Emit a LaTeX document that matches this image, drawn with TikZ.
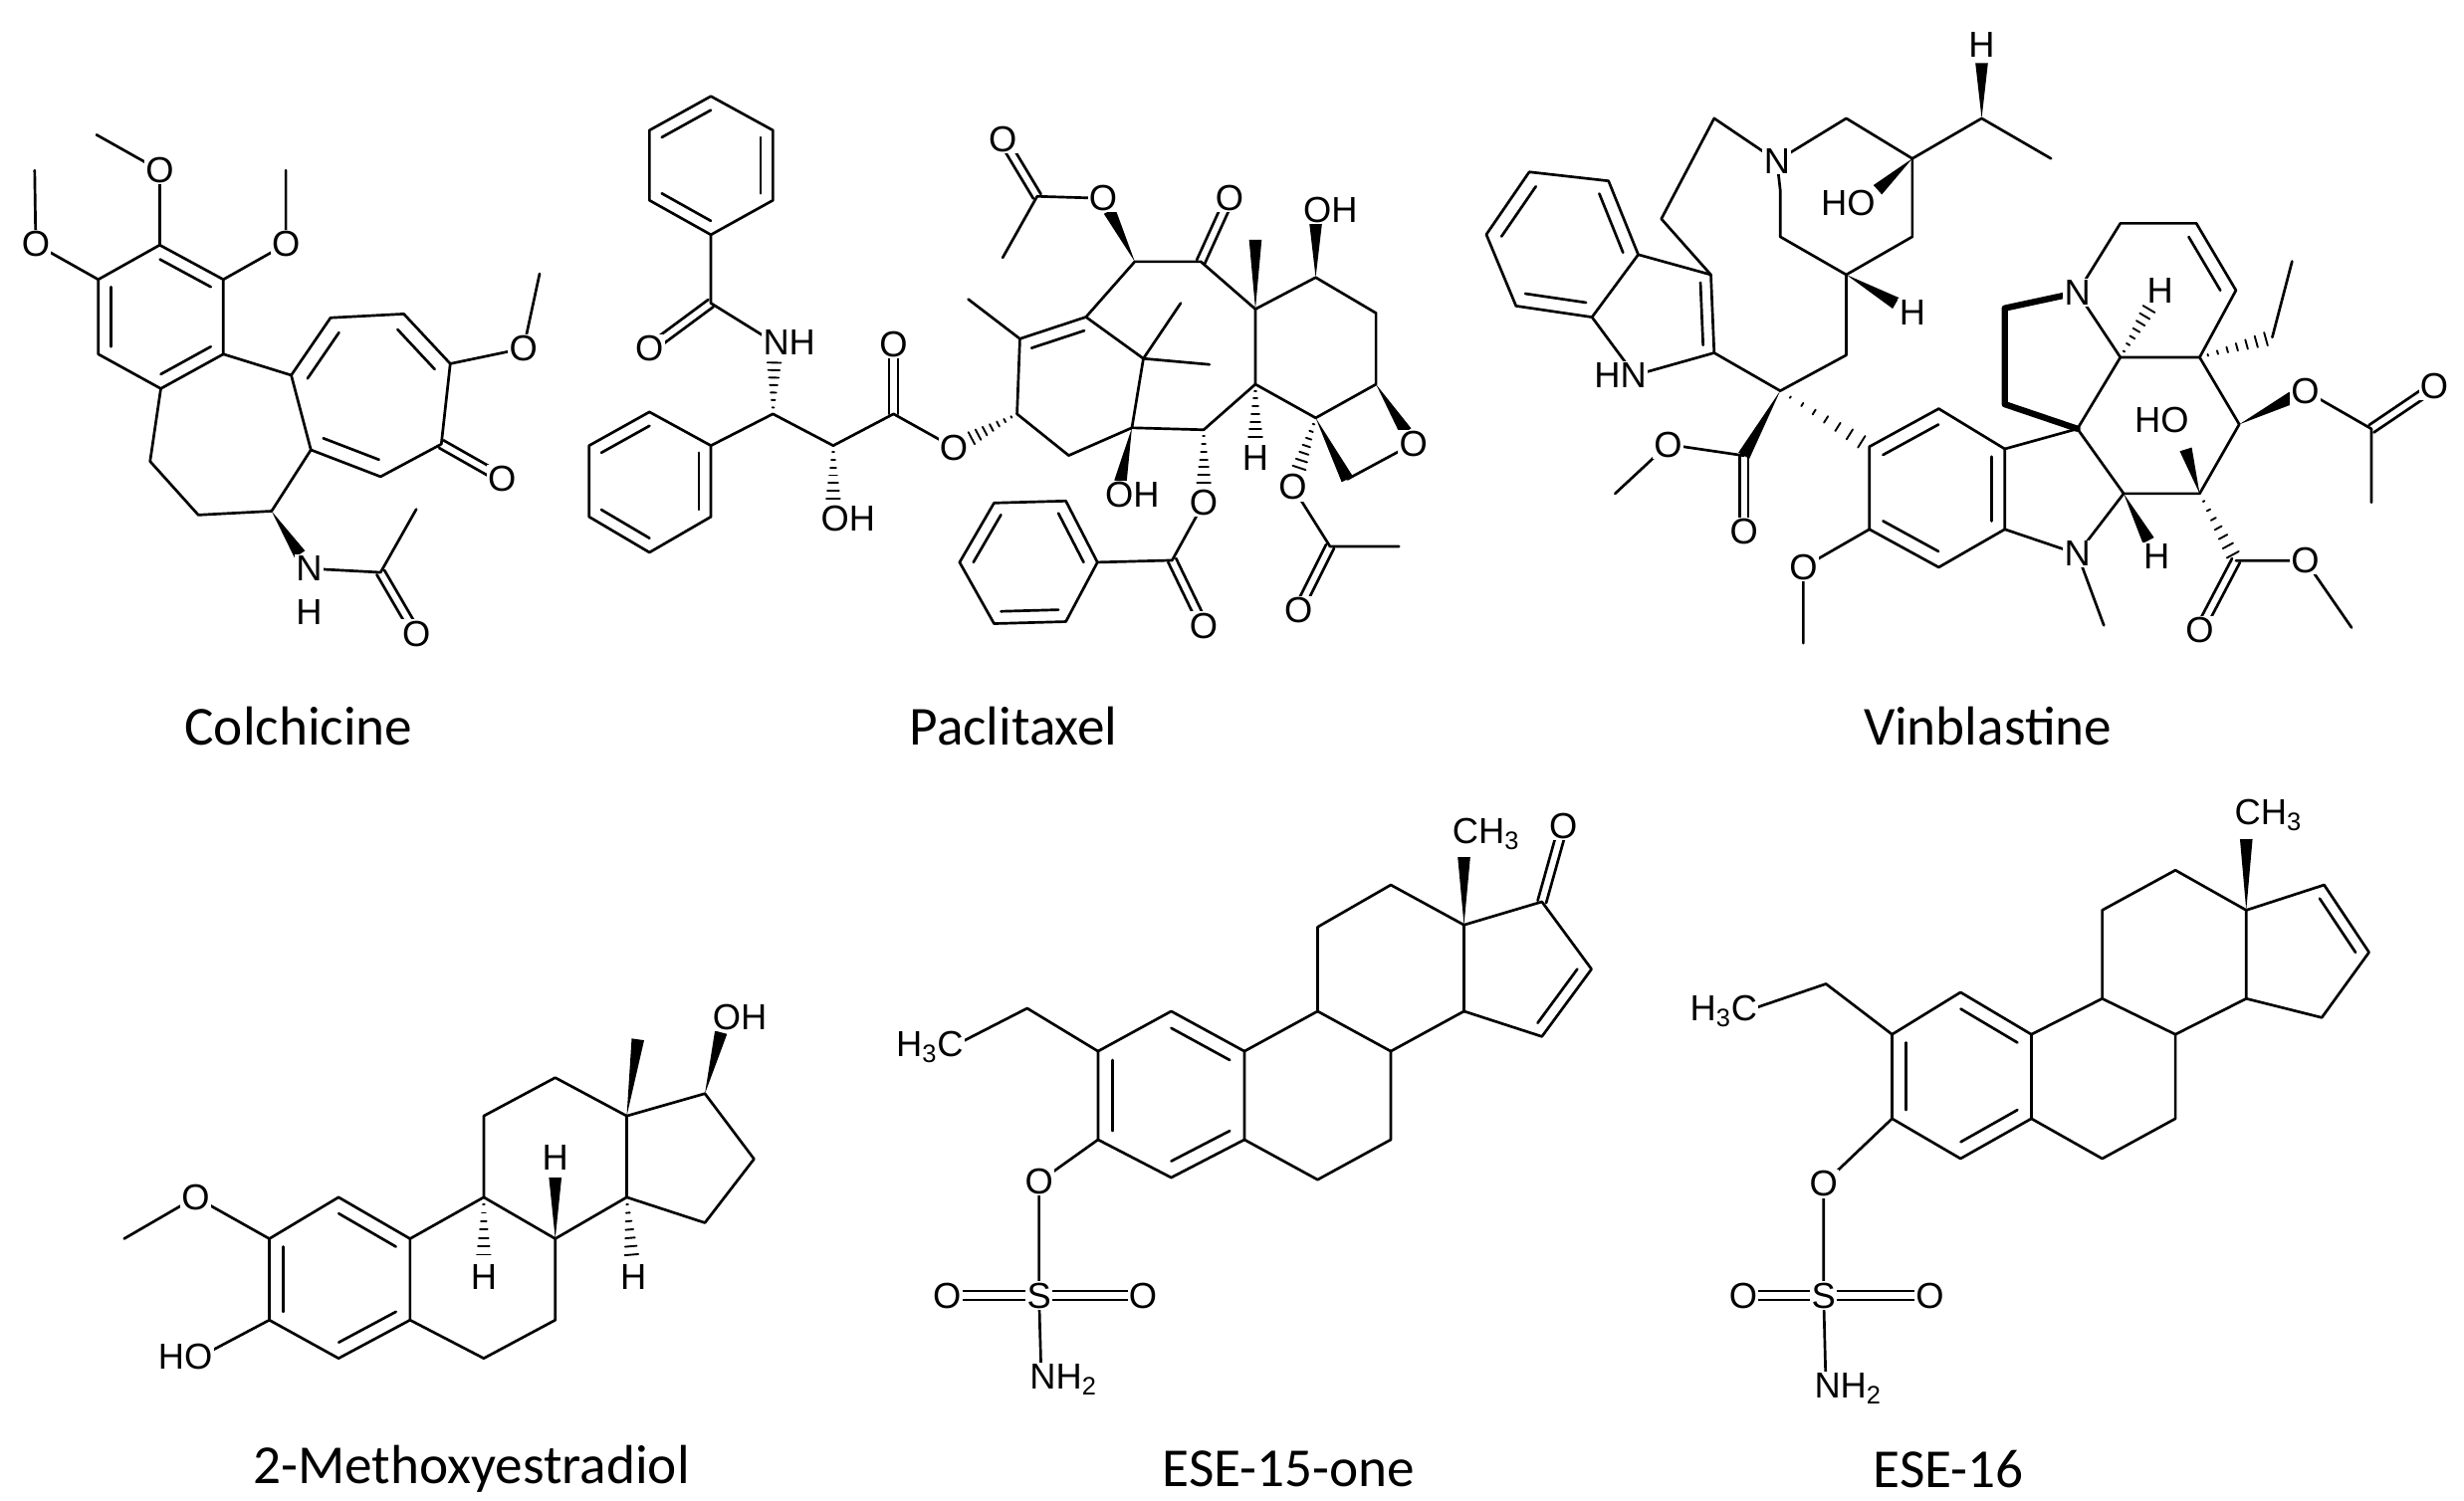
\documentclass[tikz,border=0pt]{standalone}
\usepackage{fontspec}
\setmainfont{Liberation Sans}
\newfontfamily\capfont{Carlito}
\usetikzlibrary{calc}
\newcommand\bIB[3]{\draw ($(#1)!0.2!(#3)$) -- ($(#2)!0.2!(#3)$);}
\newcommand\bDB[2]{\draw ($(#1)!2.8pt!90:(#2)$) -- ($(#2)!2.8pt!-90:(#1)$); \draw ($(#1)!2.8pt!-90:(#2)$) -- ($(#2)!2.8pt!90:(#1)$);}
\newcommand\bWG[3][0.8]{\path ($(#2)!#1!(#3)$) coordinate (wgtmp); \fill (#2) -- ($(wgtmp)!4pt!90:(#2)$) -- ($(wgtmp)!4pt!-90:(#2)$) -- cycle;}
\newcommand\bHS[3][0.8]{\path ($(#2)!#1!(#3)$) coordinate (hstmp); \foreach \t in {0.12,0.26,0.4,0.54,0.68,0.82,0.96}{\draw[line width=1.2pt] ($(#2)!\t!(hstmp)!{\t*4.5pt}!90:(#3)$) -- ($(#2)!\t!(hstmp)!{\t*4.5pt}!-90:(#3)$);}}
\begin{document}
\begin{tikzpicture}[x=1pt,y=-1pt,line width=1.7pt,line join=round,line cap=round,
 lab/.style={font=\fontsize{23}{26}\selectfont,fill=white,inner sep=0.8pt},
 captxt/.style={font=\capfont\fontsize{35}{40}\selectfont}]
\useasboundingbox (0,0) rectangle (1568,955);
% ================= Colchicine
\begin{scope}[shift={(0,63.35)},xscale=0.2274,yscale=0.2437]
\coordinate (ca1) at (447,380); \coordinate (ca2) at (625,470); \coordinate (ca3) at (625,665);
\coordinate (ca4) at (450,755); \coordinate (ca5) at (275,665); \coordinate (ca6) at (275,470); \coordinate (cx) at (450,567);
\coordinate (co1) at (100,378); \coordinate (cm1) at (97,185); \coordinate (co2) at (447,185); \coordinate (cm2) at (270,92);
\coordinate (co3) at (800,378); \coordinate (cm3) at (800,185);
\coordinate (cb1) at (420,945); \coordinate (cb2) at (555,1085); \coordinate (cb3) at (760,1075);
\coordinate (cc1) at (870,915); \coordinate (cc2) at (815,720); \coordinate (cc3) at (925,570); \coordinate (cc4) at (1130,560);
\coordinate (cc5) at (1260,690); \coordinate (cc6) at (1235,900); \coordinate (cc7) at (1065,985); \coordinate (cy) at (1043,763);
\coordinate (co4) at (1405,990); \coordinate (co5) at (1465,650); \coordinate (cm5) at (1510,455);
\coordinate (cn) at (865,1225); \coordinate (ch) at (865,1340); \coordinate (cc8) at (1065,1235); \coordinate (cm8) at (1165,1070); \coordinate (co6) at (1165,1395);
\end{scope}
\draw (ca1)--(ca2)--(ca3)--(ca4)--(ca5)--(ca6)--cycle;
\bIB{ca1}{ca2}{cx}\bIB{ca3}{ca4}{cx}\bIB{ca5}{ca6}{cx}
\draw (ca6)--(co1)--(cm1); \draw (ca1)--(co2)--(cm2); \draw (ca2)--(co3)--(cm3);
\draw (ca4)--(cb1)--(cb2)--(cb3)--(cc1)--(cc2)--(ca3);
\draw (cc2)--(cc3)--(cc4)--(cc5)--(cc6)--(cc7)--(cc1);
\bIB{cc2}{cc3}{cy}\bIB{cc4}{cc5}{cy}\bIB{cc7}{cc1}{cy}
\bDB{cc6}{co4} \draw (cc5)--(co5)--(cm5);
\bWG[0.75]{cb3}{cn} \draw (cn)--(cc8)--(cm8); \bDB{cc8}{co6}
\foreach \p in {co1,co2,co3,co4,co5,co6} \node[lab] at (\p) {O};
\node[lab] at (cn) {N}; \node[lab] at (ch) {H};
\node[captxt] at (190,462) {Colchicine};
% ================= Paclitaxel
\begin{scope}[shift={(354.8,50.7)},xscale=0.3655,yscale=0.2518]
\coordinate (pp1) at (267,42); \coordinate (pp2) at (375,128); \coordinate (pp3) at (375,305);
\coordinate (pp4) at (267,392); \coordinate (pp5) at (160,305); \coordinate (pp6) at (160,128); \coordinate (ppx) at (267,217);
\coordinate (pc1) at (267,565); \coordinate (po1) at (160,680); \coordinate (pn) at (378,665); \coordinate (pc2) at (375,845);
\coordinate (pq1) at (267,925); \coordinate (pq2) at (267,1105); \coordinate (pq3) at (160,1195);
\coordinate (pq4) at (55,1105); \coordinate (pq5) at (55,925); \coordinate (pq6) at (160,840); \coordinate (pqx) at (161,1015);
\coordinate (pc3) at (480,925); \coordinate (poh1) at (480,1110); \coordinate (pc4) at (585,845); \coordinate (po2) at (585,670);
\coordinate (po3) at (690,930); \coordinate (pc5) at (800,845);
\coordinate (pc6) at (805,655); \coordinate (pc7) at (920,600); \coordinate (pme1) at (715,555); \coordinate (pc8) at (1005,460);
\coordinate (po4) at (950,300); \coordinate (pc9) at (835,295); \coordinate (po5) at (775,150); \coordinate (pme2) at (775,450);
\coordinate (pc10) at (1120,460); \coordinate (po6) at (1170,300); \coordinate (pc11) at (1215,580); \coordinate (pme3) at (1215,405);
\coordinate (pc12) at (1320,500); \coordinate (poh2) at (1320,330); \coordinate (pc13) at (1425,590); \coordinate (pc14) at (1425,770);
\coordinate (pc15) at (1320,855); \coordinate (pc16) at (1215,770);
\coordinate (po7) at (1490,920); \coordinate (pc17) at (1375,1010); \coordinate (po8) at (1280,1030); \coordinate (pc18) at (1345,1180);
\coordinate (pme4) at (1465,1180); \coordinate (po9) at (1290,1340); \coordinate (ph) at (1215,955);
\coordinate (pc19) at (1125,885); \coordinate (po10) at (1125,1070); \coordinate (pc20) at (1070,1215); \coordinate (po11) at (1125,1380);
\coordinate (pb1) at (940,1220); \coordinate (pb2) at (885,1370); \coordinate (pb3) at (760,1375);
\coordinate (pb4) at (700,1220); \coordinate (pb5) at (760,1070); \coordinate (pb6) at (885,1065); \coordinate (pbx) at (820,1220);
\coordinate (pc21) at (1000,880); \coordinate (poh3) at (975,1050); \coordinate (pc22) at (890,950); \coordinate (pc23) at (1020,705);
\coordinate (pme5) at (1085,565); \coordinate (pme6) at (1135,720); \coordinate (pax) at (906,772);
\end{scope}
\draw (pp1)--(pp2)--(pp3)--(pp4)--(pp5)--(pp6)--cycle;
\bIB{pp6}{pp1}{ppx}\bIB{pp2}{pp3}{ppx}\bIB{pp4}{pp5}{ppx}
\draw (pp4)--(pc1)--(pn); \bDB{pc1}{po1} \bHS[0.75]{pc2}{pn} \draw (pc2)--(pq1);
\draw (pq1)--(pq2)--(pq3)--(pq4)--(pq5)--(pq6)--cycle;
\bIB{pq6}{pq5}{pqx}\bIB{pq1}{pq2}{pqx}\bIB{pq3}{pq4}{pqx}
\draw (pc2)--(pc3)--(pc4)--(po3); \bHS[0.75]{pc3}{poh1} \bDB{pc4}{po2} \bHS[0.75]{pc5}{po3}
\draw (pc5)--(pc6)--(pc7); \bIB{pc6}{pc7}{pax} \draw (pc6)--(pme1);
\draw (pc7)--(pc8)--(pc10)--(pc11)--(pc12)--(pc13)--(pc14)--(pc15)--(pc16)--(pc11);
\bWG{pc8}{po4} \draw (po4)--(pc9)--(pme2); \bDB{pc9}{po5} \bDB{pc10}{po6} \bWG[1]{pc11}{pme3} \bWG{pc12}{poh2}
\bWG{pc14}{po7} \draw (po7)--(pc17); \bWG[1]{pc15}{pc17} \bHS[0.75]{pc15}{po8} \draw (po8)--(pc18)--(pme4); \bDB{pc18}{po9}
\bHS[0.75]{pc16}{ph} \draw (pc16)--(pc19)--(pc21)--(pc22)--(pc5); \bHS[0.75]{pc19}{po10} \draw (po10)--(pc20)--(pb1); \bDB{pc20}{po11}
\draw (pb1)--(pb2)--(pb3)--(pb4)--(pb5)--(pb6)--cycle;
\bIB{pb6}{pb1}{pbx}\bIB{pb2}{pb3}{pbx}\bIB{pb4}{pb5}{pbx}
\bWG{pc21}{poh3} \draw (pc7)--(pc23)--(pc21); \draw (pc23)--(pme5); \draw (pc23)--(pme6);
\foreach \p in {po1,po2,po3,po4,po5,po6,po7,po8,po9,po10,po11} \node[lab] at (\p) {O};
\node[lab,anchor=west] at ([xshift=-9pt]pn) {NH};
\foreach \p in {poh1,poh2,poh3} \node[lab,anchor=west] at ([xshift=-9.5pt]\p) {OH};
\node[lab] at (ph) {H};
\node[captxt] at (645,462) {Paclitaxel};
% ================= Vinblastine
\begin{scope}[shift={(912.2,0)},xscale=0.4203,yscale=0.2843]
\coordinate (vi1) at (145,385); \coordinate (vi2) at (265,405); \coordinate (vi3) at (310,570);
\coordinate (vi4) at (240,710); \coordinate (vi5) at (125,685); \coordinate (vi6) at (80,525); \coordinate (vix) at (195,547);
\coordinate (vv1) at (420,615); \coordinate (vv2) at (425,790); \coordinate (vhn) at (305,840); \coordinate (vpx) at (341,703);
\coordinate (ve1) at (345,490); \coordinate (ve2) at (425,265); \coordinate (vn1) at (520,360);
\coordinate (vr1) at (625,265); \coordinate (vr2) at (725,355); \coordinate (vr3) at (725,530);
\coordinate (vr4) at (625,615); \coordinate (vr5) at (525,530); \coordinate (vr6) at (525,425);
\coordinate (vho1) at (650,455); \coordinate (vr7) at (830,265); \coordinate (vh1) at (830,100); \coordinate (vme1) at (935,355);
\coordinate (vh2) at (725,700);
\coordinate (vr8) at (625,795); \coordinate (vq) at (525,875); \coordinate (vec) at (470,1020); \coordinate (veo) at (355,995);
\coordinate (veme) at (275,1105); \coordinate (veo2) at (470,1190);
\coordinate (var1) at (660,1000); \coordinate (var2) at (765,915); \coordinate (var3) at (865,1005);
\coordinate (var4) at (865,1185); \coordinate (var5) at (765,1270); \coordinate (var6) at (660,1185); \coordinate (varx) at (763,1092);
\coordinate (vao) at (560,1270); \coordinate (vame) at (560,1440); \coordinate (vn2) at (975,1240); \coordinate (vnme) at (1015,1400);
\coordinate (vs) at (975,960); \coordinate (vw1) at (1040,800); \coordinate (vw2) at (1045,1105); \coordinate (vh3) at (1095,1245);
\coordinate (vh4) at (1100,650); \coordinate (vn3) at (975,655); \coordinate (vk1) at (865,690); \coordinate (vk2) at (865,905);
\coordinate (vd1) at (1040,500); \coordinate (vd2) at (1155,500); \coordinate (vd3) at (1215,650); \coordinate (vd4) at (1160,800);
\coordinate (vdx) at (1097,651); \coordinate (vet1) at (1270,755); \coordinate (vet2) at (1300,585);
\coordinate (vd5) at (1220,950); \coordinate (vao2) at (1320,875); \coordinate (vac) at (1420,960); \coordinate (vaco) at (1515,865);
\coordinate (vacm) at (1420,1125); \coordinate (vd6) at (1160,1105); \coordinate (vho2) at (1125,940);
\coordinate (vec2) at (1215,1255); \coordinate (veo3) at (1320,1255); \coordinate (veme3) at (1390,1405); \coordinate (veo4) at (1160,1410);
\end{scope}
\draw (vi1)--(vi2)--(vi3)--(vi4)--(vi5)--(vi6)--cycle;
\bIB{vi6}{vi1}{vix}\bIB{vi2}{vi3}{vix}\bIB{vi4}{vi5}{vix}
\draw (vi3)--(vv1)--(vv2)--(vhn)--(vi4); \bIB{vv1}{vv2}{vpx}
\draw (vv1)--(ve1)--(ve2)--(vn1)--(vr1)--(vr2)--(vr3)--(vr4)--(vr5)--(vr6)--(vn1);
\bWG[0.7]{vr2}{vho1} \draw (vr2)--(vr7)--(vme1); \bWG[0.75]{vr7}{vh1} \bWG[0.75]{vr4}{vh2}
\draw (vr4)--(vr8)--(vq)--(vv2); \bWG[1]{vq}{vec} \draw (vec)--(veo)--(veme); \bDB{vec}{veo2}
\bHS[0.95]{vq}{var1}
\draw (var1)--(var2)--(var3)--(var4)--(var5)--(var6)--cycle;
\bIB{var1}{var2}{varx}\bIB{var3}{var4}{varx}\bIB{var5}{var6}{varx}
\draw (var6)--(vao)--(vame); \draw (var4)--(vn2)--(vnme); \draw (var3)--(vs)--(vw1)--(vn3); \draw (vs)--(vw2)--(vn2);
\bWG[0.75]{vw2}{vh3} \bHS[0.75]{vw1}{vh4}
\draw[line width=4pt] (vn3)--(vk1)--(vk2)--(vs);
\draw (vn3)--(vd1)--(vd2)--(vd3)--(vd4)--(vw1); \bIB{vd2}{vd3}{vdx}
\bHS[0.95]{vd4}{vet1} \draw (vet1)--(vet2);
\draw (vd4)--(vd5)--(vd6)--(vw2); \bWG{vd5}{vao2} \draw (vao2)--(vac)--(vacm); \bDB{vac}{vaco}
\bWG[0.6]{vd6}{vho2} \bHS[0.95]{vd6}{vec2} \draw (vec2)--(veo3)--(veme3); \bDB{vec2}{veo4}
\foreach \p in {vn1,vn2,vn3} \node[lab] at (\p) {N};
\node[lab,anchor=east] at ([xshift=9pt]vhn) {HN};
\foreach \p in {vho1,vho2} \node[lab,anchor=east] at ([xshift=9.5pt]\p) {HO};
\foreach \p in {vh1,vh2,vh3,vh4} \node[lab] at (\p) {H};
\foreach \p in {veo,veo2,vao,vao2,vaco,veo3,veo4} \node[lab] at (\p) {O};
\node[captxt] at (1265,462) {Vinblastine};
% ================= 2-Methoxyestradiol
\begin{scope}[shift={(63.35,570.2)},xscale=0.2843,yscale=0.2030]
\coordinate (ma1) at (535,945); \coordinate (ma2) at (695,1075); \coordinate (ma3) at (695,1330);
\coordinate (ma4) at (535,1450); \coordinate (ma5) at (380,1330); \coordinate (ma6) at (380,1075); \coordinate (max) at (537,1200);
\coordinate (mo1) at (215,945); \coordinate (mme) at (55,1075); \coordinate (mho) at (225,1445);
\coordinate (mb1) at (860,945); \coordinate (mb2) at (1020,1075); \coordinate (mb3) at (1020,1330); \coordinate (mb4) at (860,1450);
\coordinate (mh1) at (860,1195); \coordinate (mh2) at (1020,820); \coordinate (mc1) at (860,690); \coordinate (mc2) at (1020,570);
\coordinate (mc3) at (1180,690); \coordinate (mc4) at (1180,945); \coordinate (mh3) at (1195,1195); \coordinate (mme2) at (1205,450);
\coordinate (md1) at (1355,620); \coordinate (md2) at (1465,825); \coordinate (md3) at (1355,1025); \coordinate (moh) at (1400,380);
\end{scope}
\draw (ma1)--(ma2)--(ma3)--(ma4)--(ma5)--(ma6)--cycle;
\bIB{ma1}{ma2}{max}\bIB{ma3}{ma4}{max}\bIB{ma5}{ma6}{max}
\draw (ma6)--(mo1)--(mme); \draw (ma5)--(mho);
\draw (ma2)--(mb1)--(mb2)--(mb3)--(mb4)--(ma3); \bHS[0.75]{mb1}{mh1} \bWG[0.75]{mb2}{mh2}
\draw (mb1)--(mc1)--(mc2)--(mc3)--(mc4)--(mb2); \bHS[0.75]{mc4}{mh3} \bWG[1]{mc3}{mme2}
\draw (mc3)--(md1)--(md2)--(md3)--(mc4); \bWG[0.8]{md1}{moh}
\node[lab] at (mo1) {O};
\node[lab,anchor=east] at ([xshift=9.5pt]mho) {HO};
\node[lab,anchor=west] at ([xshift=-9.5pt]moh) {OH};
\foreach \p in {mh1,mh2,mh3} \node[lab] at (\p) {H};
\node[captxt] at (300,935) {2-Methoxyestradiol};
% ================= ESE-15-one
\begin{scope}[shift={(557.5,481.5)},xscale=0.3005,yscale=0.2680]
\coordinate (ea1) at (625,605); \coordinate (ea2) at (780,700); \coordinate (ea3) at (780,910);
\coordinate (ea4) at (625,1000); \coordinate (ea5) at (470,910); \coordinate (ea6) at (470,700); \coordinate (eax) at (625,805);
\coordinate (ee1) at (320,598); \coordinate (eec) at (160,690); \coordinate (eo) at (345,1010); \coordinate (es) at (345,1280);
\coordinate (en) at (350,1480); \coordinate (eol) at (150,1280); \coordinate (eor) at (565,1280);
\coordinate (eb1) at (935,605); \coordinate (eb2) at (1090,700); \coordinate (eb3) at (1090,910); \coordinate (eb4) at (935,1005);
\coordinate (ec1) at (935,405); \coordinate (ec2) at (1090,305); \coordinate (ec3) at (1245,400); \coordinate (ec4) at (1245,605);
\coordinate (ecm) at (1245,185);
\coordinate (ed1) at (1410,345); \coordinate (ed2) at (1515,505); \coordinate (ed3) at (1410,665); \coordinate (edx) at (1365,504);
\coordinate (edo) at (1455,165);
\end{scope}
\draw (ea1)--(ea2)--(ea3)--(ea4)--(ea5)--(ea6)--cycle;
\bIB{ea1}{ea2}{eax}\bIB{ea3}{ea4}{eax}\bIB{ea5}{ea6}{eax}
\draw (ea6)--(ee1)--(eec); \draw (ea5)--(eo)--(es)--(en); \bDB{es}{eol} \bDB{es}{eor}
\draw (ea2)--(eb1)--(eb2)--(eb3)--(eb4)--(ea3);
\draw (eb1)--(ec1)--(ec2)--(ec3)--(ec4)--(eb2); \bWG[0.75]{ec3}{ecm}
\draw (ec3)--(ed1)--(ed2)--(ed3)--(ec4); \bIB{ed2}{ed3}{edx} \bDB{ed1}{edo}
\foreach \p in {eo,eol,eor,edo} \node[lab] at (\p) {O};
\node[lab] at (es) {S};
\node[lab,anchor=east] at ([xshift=9pt]eec) {H\textsubscript{3}C};
\node[lab,anchor=west] at ([xshift=-9pt]ecm) {CH\textsubscript{3}};
\node[lab,anchor=west] at ([xshift=-9pt]en) {NH\textsubscript{2}};
\node[captxt] at (820,935) {ESE-15-one};
% ================= ESE-16
\begin{scope}[shift={(1064.3,481.5)},xscale=0.3005,yscale=0.2680]
\coordinate (fa1) at (610,560); \coordinate (fa2) at (760,660); \coordinate (fa3) at (760,860);
\coordinate (fa4) at (610,955); \coordinate (fa5) at (465,860); \coordinate (fa6) at (465,660); \coordinate (fax) at (612,757);
\coordinate (fe1) at (325,540); \coordinate (fec) at (155,605); \coordinate (fo) at (320,1015); \coordinate (fs) at (320,1280);
\coordinate (fn) at (325,1500); \coordinate (fol) at (150,1280); \coordinate (for) at (545,1280);
\coordinate (fb1) at (910,575); \coordinate (fb2) at (1065,660); \coordinate (fb3) at (1065,860); \coordinate (fb4) at (910,955);
\coordinate (fc1) at (910,365); \coordinate (fc2) at (1065,270); \coordinate (fc3) at (1215,365); \coordinate (fc4) at (1215,575);
\coordinate (fcm) at (1215,140);
\coordinate (fd1) at (1380,305); \coordinate (fd2) at (1475,465); \coordinate (fd3) at (1375,620); \coordinate (fdx) at (1332,466);
\end{scope}
\draw (fa1)--(fa2)--(fa3)--(fa4)--(fa5)--(fa6)--cycle;
\bIB{fa1}{fa2}{fax}\bIB{fa3}{fa4}{fax}\bIB{fa5}{fa6}{fax}
\draw (fa6)--(fe1)--(fec); \draw (fa5)--(fo)--(fs)--(fn); \bDB{fs}{fol} \bDB{fs}{for}
\draw (fa2)--(fb1)--(fb2)--(fb3)--(fb4)--(fa3);
\draw (fb1)--(fc1)--(fc2)--(fc3)--(fc4)--(fb2); \bWG[0.75]{fc3}{fcm}
\draw (fc3)--(fd1)--(fd2)--(fd3)--(fc4); \bIB{fd1}{fd2}{fdx}
\foreach \p in {fo,fol,for} \node[lab] at (\p) {O};
\node[lab] at (fs) {S};
\node[lab,anchor=east] at ([xshift=9pt]fec) {H\textsubscript{3}C};
\node[lab,anchor=west] at ([xshift=-9pt]fcm) {CH\textsubscript{3}};
\node[lab,anchor=west] at ([xshift=-9pt]fn) {NH\textsubscript{2}};
\node[captxt] at (1240,935) {ESE-16};
\end{tikzpicture}
\end{document}
